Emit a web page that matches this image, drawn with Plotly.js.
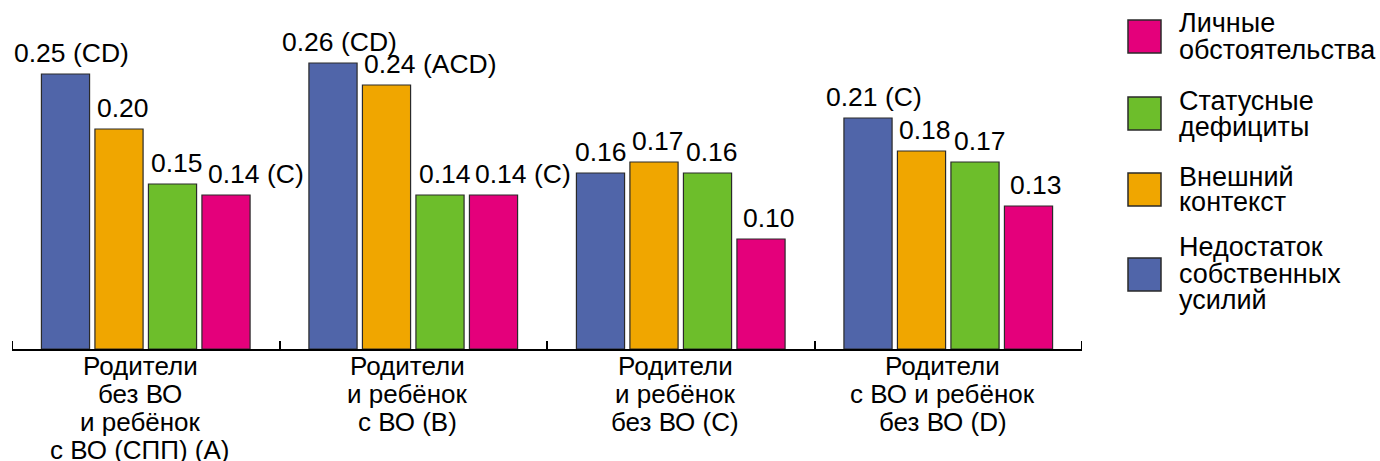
<!DOCTYPE html>
<html>
<head>
<meta charset="utf-8">
<script src="https://cdn.plot.ly/plotly-3.0.1.min.js"></script>
<style>html,body{margin:0;padding:0;background:#fff;}#chart{width:1380px;height:461px;}</style>
</head>
<body>
<div id="chart"></div>
<script>
// ---------- DATA ----------
const categories = ['A', 'B', 'C', 'D'];
const categoryLabels = [
  ['Родители', 'без ВО', 'и ребёнок', 'с ВО (СПП) (A)'],
  ['Родители', 'и ребёнок', 'с ВО (B)'],
  ['Родители', 'и ребёнок', 'без ВО (C)'],
  ['Родители', 'с ВО и ребёнок', 'без ВО (D)']
];
const seriesNames = ['Недостаток собственных усилий', 'Внешний контекст', 'Статусные дефициты', 'Личные обстоятельства'];
const legendLines = [
  ['Недостаток', 'собственных', 'усилий'],
  ['Внешний', 'контекст'],
  ['Статусные', 'дефициты'],
  ['Личные', 'обстоятельства']
];
const effortValues   = [0.25, 0.26, 0.16, 0.21];
const contextValues  = [0.20, 0.24, 0.17, 0.18];
const statusValues   = [0.15, 0.14, 0.16, 0.17];
const personalValues = [0.14, 0.14, 0.10, 0.13];
const effortSuffix   = ['(CD)', '(CD)', '', '(C)'];
const contextSuffix  = ['', '(ACD)', '', ''];
const statusSuffix   = ['', '', '', ''];
const personalSuffix = ['(C)', '(C)', '', ''];

// ---------- STYLE ----------
const colors = ['#5065a9', '#f0a600', '#6dbe2b', '#e4007b'];
const labelShift = [-3, 0, 1, 4];   // px shift of left-aligned value labels per series
const FONT = 'Liberation Sans, Arial, Helvetica, sans-serif';
const L = 12, T = 10, W = 1070, H = 339;
const PX_PER_UNIT = 1100;
const BARGAP = 0.2, GROUPGAP = 0.1;

const seriesValues = [effortValues, contextValues, statusValues, personalValues];
const seriesSuffix = [effortSuffix, contextSuffix, statusSuffix, personalSuffix];

const px2x = px => (px - L) / W;
const py2y = py => (T + H - py) / H;

const traces = seriesValues.map((vals, i) => ({
  type: 'bar',
  name: seriesNames[i],
  x: categories,
  y: vals,
  marker: { color: colors[i], line: { color: '#2a2a2a', width: 1.2 } },
  showlegend: false,
  hoverinfo: 'skip'
}));

const annotations = [];
const nS = seriesValues.length;
const slot = (1 - BARGAP) / nS;
const barW = slot * (1 - GROUPGAP);
seriesValues.forEach((vals, i) => {
  const off = -(1 - BARGAP) / 2 + slot * (i + 0.5);
  vals.forEach((v, j) => {
    const suf = seriesSuffix[i][j];
    const txt = v.toFixed(2) + (suf ? ' ' + suf : '');
    const centered = (i === 0 && suf);
    annotations.push({
      xref: 'x', yref: 'y',
      x: j + off - (centered ? 0 : barW / 2),
      y: v,
      text: txt,
      showarrow: false,
      xanchor: centered ? 'center' : 'left',
      yanchor: 'bottom',
      xshift: centered ? 6 : labelShift[i],
      yshift: 4,
      font: { family: FONT, size: 26.5, color: '#000' }
    });
  });
});

// category labels, one annotation per line
categoryLabels.forEach((lines, j) => {
  lines.forEach((ln, k) => {
    annotations.push({
      xref: 'x', yref: 'paper',
      x: j - 0.02, y: py2y(366 + k * 28),
      text: ln, showarrow: false,
      xanchor: 'center', yanchor: 'middle',
      font: { family: FONT, size: 26, color: '#000' }
    });
  });
});

// legend (custom, large swatches), top to bottom in reversed series order
const shapes = [];
const legendTops = [20, 97, 173, 258];
const SQ = 33;
for (let r = 0; r < nS; r++) {
  const i = nS - 1 - r;
  const top = legendTops[r];
  shapes.push({
    type: 'rect', xref: 'paper', yref: 'paper',
    x0: px2x(1128), x1: px2x(1128 + SQ), y0: py2y(top + SQ), y1: py2y(top),
    fillcolor: colors[i], line: { color: '#2a2a2a', width: 1.5 }
  });
  const lines = legendLines[i];
  const cy = top + SQ / 2;
  const sp = 26;
  lines.forEach((ln, k) => {
    const yc = cy + (k - (lines.length - 1) / 2) * sp + (lines.length === 2 ? 0 : -1);
    annotations.push({
      xref: 'paper', yref: 'paper',
      x: px2x(1177), y: py2y(yc),
      text: ln, showarrow: false,
      xanchor: 'left', yanchor: 'middle',
      font: { family: FONT, size: 27, color: '#000' }
    });
  });
}

// end ticks of the category axis (outer boundaries)
[-0.5, categories.length - 0.5].forEach(xb => {
  shapes.push({
    type: 'line', xref: 'x', yref: 'paper',
    x0: xb, x1: xb, y0: 0, y1: 8 / H,
    line: { color: '#000', width: 2 }
  });
});

const layout = {
  width: 1380, height: 461,
  margin: { l: L, r: 1380 - L - W, t: T, b: 461 - T - H, pad: 0 },
  paper_bgcolor: '#ffffff', plot_bgcolor: '#ffffff',
  barmode: 'group', bargap: BARGAP, bargroupgap: GROUPGAP,
  showlegend: false,
  xaxis: {
    type: 'category', categoryorder: 'array', categoryarray: categories,
    range: [-0.5, 3.5],
    showline: true, linecolor: '#000', linewidth: 2,
    ticks: 'inside', tickson: 'boundaries', ticklen: 8, tickwidth: 2, tickcolor: '#000',
    showticklabels: false, showgrid: false, zeroline: false, fixedrange: true
  },
  yaxis: {
    range: [0, H / PX_PER_UNIT],
    showline: false, showgrid: false, zeroline: false, showticklabels: false, ticks: '',
    fixedrange: true
  },
  annotations: annotations,
  shapes: shapes,
  font: { family: FONT, color: '#000' }
};

Plotly.newPlot('chart', traces, layout, { displayModeBar: false, staticPlot: true });
</script>
</body>
</html>
